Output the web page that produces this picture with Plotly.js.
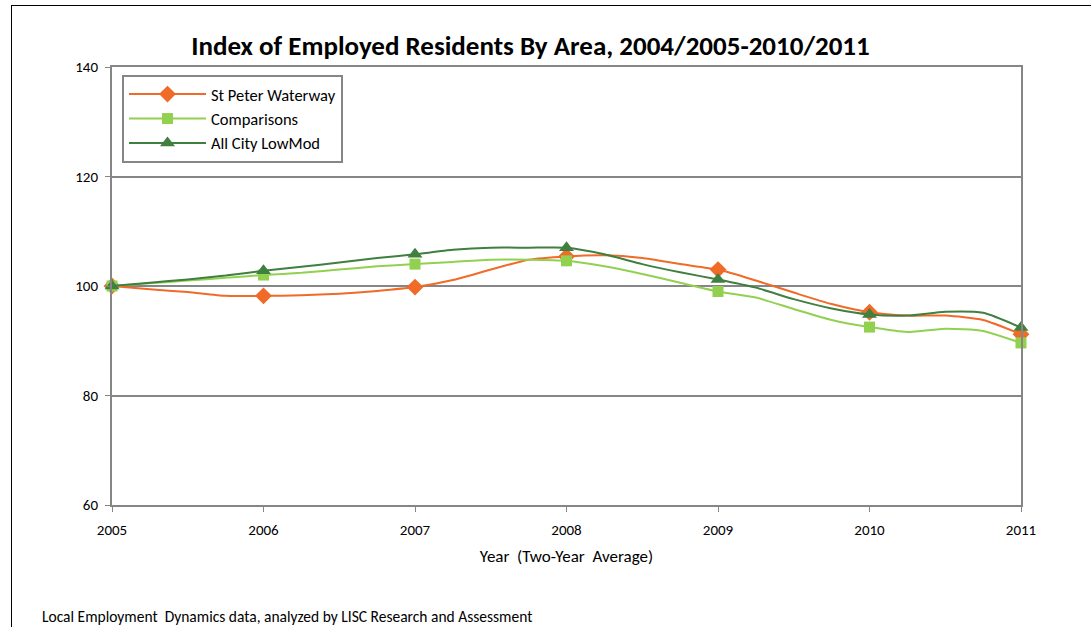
<!DOCTYPE html>
<html>
<head>
<meta charset="utf-8">
<script src="https://cdn.plot.ly/plotly-3.0.1.min.js"></script>
<style>
  html, body { margin: 0; padding: 0; background: #ffffff; }
  #frame { position: absolute; left: 11px; top: 5px; width: 1200px; height: 800px; border-left: 1px solid #000; border-top: 1px solid #000; pointer-events: none; z-index: 5; }
  #chart { position: absolute; left: 0; top: 0; width: 1091px; height: 627px; }
</style>
</head>
<body>
<div id="chart"></div>
<div id="frame"></div>
<script>
// Quarter-year sample positions along the smoothed lines; markers only at whole years
const years = [2005, 2005.25, 2005.5, 2005.75, 2006, 2006.25, 2006.5, 2006.75, 2007, 2007.25, 2007.5, 2007.75,
               2008, 2008.25, 2008.5, 2008.75, 2009, 2009.25, 2009.5, 2009.75, 2010, 2010.25, 2010.5, 2010.75, 2011];
const stPeter     = [100, 99.4, 98.9, 98.2, 98.2, 98.3, 98.6, 99.1, 99.8, 101.1, 103.0, 104.8,
                     105.4, 105.6, 105.1, 104.0, 103.0, 101.0, 98.8, 96.7, 95.2, 94.6, 94.6, 93.8, 91.2];
const comparisons = [100, 100.5, 101.0, 101.5, 102.0, 102.4, 103.0, 103.6, 104.0, 104.4, 104.8, 104.8,
                     104.6, 103.6, 102.2, 100.6, 99.0, 97.9, 95.8, 93.8, 92.5, 91.6, 92.2, 91.8, 89.6];
const allCity     = [100, 100.6, 101.2, 101.9, 102.8, 103.5, 104.3, 105.1, 105.8, 106.6, 107.0, 107.0,
                     107.0, 105.8, 104.0, 102.5, 101.2, 99.7, 97.6, 95.9, 94.8, 94.6, 95.3, 95.1, 92.4];
const seriesNames = ['St Peter Waterway', 'Comparisons', 'All City LowMod'];
const tickYears = [2005, 2006, 2007, 2008, 2009, 2010, 2011];
const yTicks = [60, 80, 100, 120, 140];

const FONT = 'Carlito, "Liberation Sans Narrow", "Open Sans", Arial, sans-serif';

function markerColors(color) {
  return years.map(function (x) { return Number.isInteger(x) ? color : 'rgba(0,0,0,0)'; });
}

function mk(name, y, color, symbol, sz) {
  return {
    type: 'scatter', mode: 'lines+markers', name: name,
    x: years, y: y,
    line: { color: color, width: 2, shape: 'spline', smoothing: 0.6 },
    marker: { color: markerColors(color), symbol: symbol, size: sz, line: { width: 0 } },
    cliponaxis: false
  };
}

const data = [
  mk(seriesNames[0], stPeter, '#F06A28', 'diamond', 13),
  mk(seriesNames[1], comparisons, '#92D050', 'square', 11),
  mk(seriesNames[2], allCity, '#3F7F3F', 'triangle-up', 13)
];

const layout = {
  width: 1091, height: 627,
  margin: { l: 112, r: 70, t: 67, b: 122 },
  paper_bgcolor: '#ffffff', plot_bgcolor: '#ffffff',
  font: { family: FONT, size: 15, color: '#000000' },
  showlegend: true,
  title: {
    text: '<b>Index of Employed Residents By Area, 2004/2005-2010/2011</b>',
    font: { family: FONT, size: 27, color: '#000000' },
    xref: 'paper', x: 0.4604, xanchor: 'center',
    yref: 'container', y: 0.928, yanchor: 'middle'
  },
  xaxis: {
    range: [2005, 2011], tickvals: tickYears, ticktext: tickYears.map(String),
    showgrid: false, zeroline: false,
    showline: true, linecolor: '#868686', linewidth: 2, mirror: true,
    ticks: 'outside', ticklen: 5, tickcolor: '#868686', tickwidth: 1,
    ticklabelstandoff: 5,
    tickfont: { family: FONT, size: 15, color: '#000000' },
    title: { text: 'Year  (Two-Year  Average)', font: { family: FONT, size: 17, color: '#000000' }, standoff: 12 }
  },
  yaxis: {
    range: [60, 140], tickvals: yTicks, ticktext: yTicks.map(String),
    showgrid: true, gridcolor: '#868686', gridwidth: 2, zeroline: false,
    showline: true, linecolor: '#868686', linewidth: 2, mirror: true,
    ticks: 'outside', ticklen: 5, tickcolor: '#868686', tickwidth: 1,
    ticklabelstandoff: 4,
    tickfont: { family: FONT, size: 15, color: '#000000' }
  },
  legend: {
    x: 0.011, y: 0.982, xanchor: 'left', yanchor: 'top',
    bgcolor: '#ffffff', bordercolor: '#868686', borderwidth: 2,
    font: { family: FONT, size: 16.5, color: '#000000' },
    itemwidth: 77, tracegroupgap: 0
  },
  annotations: [{
    text: 'Local Employment  Dynamics data, analyzed by LISC Research and Assessment',
    xref: 'paper', yref: 'paper', x: -0.0792, y: -0.2557,
    xanchor: 'left', yanchor: 'middle', showarrow: false,
    font: { family: FONT, size: 15.5, color: '#000000' }
  }]
};

Plotly.newPlot('chart', data, layout, { displayModeBar: false, staticPlot: true });
</script>
</body>
</html>
